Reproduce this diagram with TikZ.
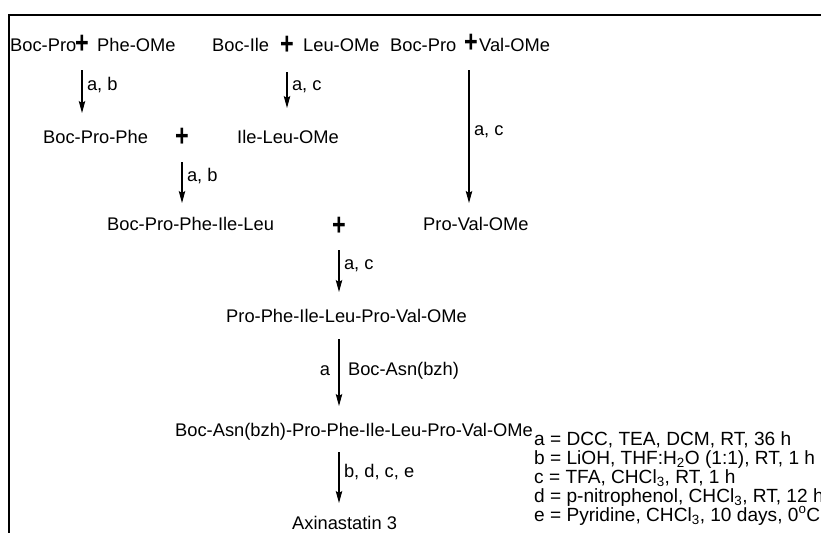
\documentclass[tikz,border=0pt]{standalone}
\usepackage{fontspec}
\setmainfont{Liberation Sans}
\usetikzlibrary{arrows.meta}

\begin{document}
\begin{tikzpicture}[x=1pt,y=-1pt,font=\fontsize{18.3}{19}\selectfont,
  pep/.style={anchor=base west,inner sep=0pt},
  plus/.style={inner sep=0pt,font=\fontsize{26}{26}\selectfont\bfseries},
  rxn/.style={line width=1.1pt,-{Stealth[length=12pt,width=6.5pt,inset=2pt]}},
  cond/.style={anchor=west,inner sep=4.5pt,text height=0.72em,text depth=0.2em},
  key/.style={anchor=base west,inner sep=0pt,font=\fontsize{19.1}{19}\selectfont},
  frame/.style={line width=2pt}]
\useasboundingbox (0,0) rectangle (821,533);
\draw[frame] (821,14.5) -| (8.5,533);
% starting materials
\node[pep] (bocproA) at (10,51) {Boc-Pro};
\node[plus] (plusA) at (82,44) {\scalebox{0.9}[1.2]{+}};
\node[pep] (pheome) at (97,51) {Phe-OMe};
\node[pep] (bocile) at (212,51) {Boc-Ile};
\node[plus] (plusB) at (287,45) {\scalebox{0.9}[1.2]{+}};
\node[pep] (leuome) at (303,51) {Leu-OMe};
\node[pep] (bocproB) at (390,51) {Boc-Pro};
\node[plus] (plusC) at (471,43) {\scalebox{0.9}[1.2]{+}};
\node[pep] (valome) at (479,51) {Val-OMe};
% dipeptides
\node[pep] (bocprophe) at (43,143) {Boc-Pro-Phe};
\node[plus] (plusD) at (182,137) {\scalebox{0.9}[1.2]{+}};
\node[pep] (ileleu) at (237,143) {Ile-Leu-OMe};
\node[pep] (tetra) at (107,230) {Boc-Pro-Phe-Ile-Leu};
\node[plus] (plusE) at (339,226) {\scalebox{0.9}[1.2]{+}};
\node[pep] (proval) at (423,230) {Pro-Val-OMe};
\node[pep] (hexa) at (226,322) {Pro-Phe-Ile-Leu-Pro-Val-OMe};
\node[pep] (hepta) at (175,436) {Boc-Asn(bzh)-Pro-Phe-Ile-Leu-Pro-Val-OMe};
\node[pep] (axin) at (292,529) {Axinastatin 3};
% arrow ends
\coordinate (sA) at (82,70);   \coordinate (eA) at (82,113);
\coordinate (sB) at (287,72);  \coordinate (eB) at (287,108);
\coordinate (sC) at (469,70);  \coordinate (eC) at (469,203);
\coordinate (sD) at (182,162); \coordinate (eD) at (182,203);
\coordinate (sE) at (339,250); \coordinate (eE) at (339,292);
\coordinate (sF) at (339,339); \coordinate (eF) at (339,406);
\coordinate (sG) at (339,452); \coordinate (eG) at (339,503);
\draw[rxn] (sA) -- node[cond,pos=.42] {a, b} (eA);
\draw[rxn] (sB) -- node[cond,pos=.45] {a, c} (eB);
\draw[rxn] (sC) -- node[cond,pos=.47] {a, c} (eC);
\draw[rxn] (sD) -- node[cond,pos=.40] {a, b} (eD);
\draw[rxn] (sE) -- node[cond,pos=.41] {a, c} (eE);
\draw[rxn] (sF) -- node[cond,pos=.5,xshift=4pt] {Boc-Asn(bzh)}
  node[cond,pos=.5,anchor=east,xshift=-4pt] {a} (eF);
\draw[rxn] (sG) -- node[cond,pos=.45] {b, d, c, e} (eG);
% reagents
\node[key] (keyA) at (534,445) {a = DCC, TEA, DCM, RT, 36 h};
\node[key] (keyB) at (534,464) {b = LiOH, THF:H\textsubscript{2}O (1:1), RT, 1 h};
\node[key] (keyC) at (534,483) {c = TFA, CHCl\textsubscript{3}, RT, 1 h};
\node[key] (keyD) at (534,502) {d = p-nitrophenol, CHCl\textsubscript{3}, RT, 12 h};
\node[key] (keyE) at (534,521) {e = Pyridine, CHCl\textsubscript{3}, 10 days, 0\textsuperscript{o}C};
\end{tikzpicture}
\end{document}
